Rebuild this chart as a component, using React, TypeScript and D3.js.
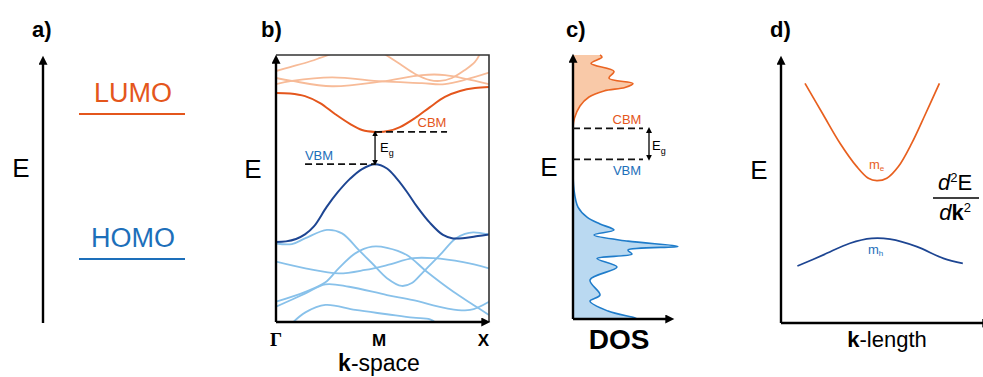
import React, { useRef, useEffect } from 'react';
import * as d3 from 'd3';

const SANS = '"Liberation Sans", Arial, Helvetica, sans-serif';
const SERIF = '"Liberation Serif", "Times New Roman", serif';

const ORANGE = '#e4561c';
const ORANGE_LIGHT = '#f7bb98';
const BLUE = '#1d6fba';
const BLUE_DARK = '#1d4592';
const BLUE_LIGHT = '#88c1ea';

// panel a: molecular levels
const levelNames = ['LUMO', 'HOMO'];
const levelEnergies = [78.5, 23.8];

// panel b: band structure, [k, E] with Γ=0, X=100
const kPointNames = ['Γ', 'M', 'X'];
const kPointPos = [0, 46.5, 100];
const gapB = [71.2, 59.1]; // CBM, VBM

const cbBand = [[0, 85.8], [6.6, 85.6], [13.6, 84.6], [20.7, 82.0], [27.7, 77.9], [34.7, 74.2], [40.4, 71.9], [46.5, 71.2], [52.6, 71.5], [58.2, 73.0], [65.3, 76.4], [72.3, 80.5], [79.3, 84.3], [86.4, 86.5], [93.4, 87.6], [100, 88.0]];
const vbBand = [[0, 30.0], [4.7, 30.2], [9.4, 31.1], [13.6, 32.8], [17.8, 35.8], [23.8, 43.1], [29.1, 48.7], [34.7, 53.6], [40.4, 57.3], [46.5, 59.1], [52.1, 57.5], [56.8, 53.6], [61.5, 48.7], [66.2, 43.2], [72.3, 37.1], [78.4, 32.6], [83.1, 31.3], [88.7, 31.5], [94.8, 32.2], [100, 32.8]];

const upper1 = [[0, 94.0], [6.6, 95.5], [13.6, 97.0], [20.7, 98.9], [26.3, 100.5]];
const upper2 = [[50.7, 100.5], [58.2, 96.6], [65.3, 92.9], [72.3, 90.6], [77.0, 90.3], [82.6, 91.4], [88.7, 94.4], [93.4, 97.4], [95.8, 100.5]];
const upper3 = [[0, 91.4], [7.5, 90.3], [26.3, 88.3], [49.8, 90.1], [68.5, 92.5], [79.3, 92.5], [100, 89.1]];
const upper4 = [[0, 89.1], [7.5, 90.3], [26.3, 91.6], [49.8, 90.1], [68.5, 89.5], [79.3, 89.1], [100, 93.4]];

const lower1 = [[0, 29.4], [7.5, 29.2], [13.6, 31.3], [23.9, 34.5], [31.0, 33.2], [38.8, 27.0], [45.1, 22.0], [52.1, 16.4], [59.0, 13.5], [63.8, 14.6], [69.2, 18.8], [77.0, 25.1], [84.0, 31.1], [88.7, 33.0], [92.6, 33.6], [100, 32.8]];
const lower2 = [[0, 22.6], [13.8, 20.1], [29.4, 18.2], [41.9, 19.5], [52.1, 21.3], [64.4, 23.9], [73.9, 23.9], [87.9, 22.4], [100, 20.1]];
const lower3 = [[0, 7.6], [13.8, 11.3], [23.2, 14.9], [29.4, 20.1], [37.2, 25.7], [45.1, 28.2], [52.1, 27.8], [61.4, 25.1], [70.8, 18.8], [83.3, 11.3], [92.7, 6.4], [100, 2.6]];
const lower4 = [[0, 5.7], [13.8, 10.7], [23.2, 14.1], [34.3, 13.2], [52.1, 10.1], [64.4, 8.2], [80.1, 5.1], [91.1, 4.5], [100, 7.6]];
const lower5 = [[7.5, -0.5], [13.8, 3.6], [23.2, 6.4], [37.2, 4.5], [52.1, 2.9], [64.4, 1.6], [72.3, 1.0], [75.4, -0.5]];

const upperBands = [upper1, upper2, upper3, upper4];
const lowerBands = [lower1, lower2, lower3, lower4, lower5];

// panel c: density of states, [E, DOS]
const gapC = [72.2, 60.5];
const dosConduction = [[100, 27], [99.2, 29], [96.8, 18], [93.8, 41], [91.2, 36], [89.2, 60], [87.7, 52], [86.4, 31], [84.1, 16], [80.7, 7], [76.1, 1.5], [72.7, 0]];
const dosValence = [[60.2, 0], [48.9, 1], [42.4, 5], [38.6, 14], [36.0, 27], [33.7, 41], [31.8, 21], [29.5, 55], [27.5, 105], [26.1, 55], [24.6, 59], [22.9, 24], [19.7, 44], [14.8, 17], [9.1, 27], [6.8, 17], [3.0, 35], [0.4, 62], [0, 64]];

// panel d: effective mass parabolas, [k, E]
const electronCurve = [[12.0, 90.1], [21.2, 78.2], [29.5, 67.6], [37.9, 58.8], [43.7, 54.4], [47.9, 53.5], [52.9, 54.4], [58.7, 58.8], [65.4, 67.6], [72.0, 78.2], [79.2, 90.1]];
const holeCurve = [[8.2, 21.4], [21.2, 25.6], [34.5, 30.0], [45.4, 31.8], [54.5, 31.5], [67.9, 28.7], [81.2, 24.3], [90.9, 22.4]];

const panelLabels = ['a)', 'b)', 'c)', 'd)'];
const panelLabelX = [32, 261, 566, 770];

export default function App() {
  const svgRef = useRef<SVGSVGElement>(null);

  useEffect(() => {
    const svg = d3.select(svgRef.current);
    svg.selectAll('*').remove();
    svg.attr('font-family', SANS);

    const defs = svg.append('defs');
    const marker = (id: string, w: number, h: number, refX: number) =>
      defs.append('marker')
        .attr('id', id)
        .attr('viewBox', '0 0 10 10')
        .attr('refX', refX)
        .attr('refY', 5)
        .attr('markerUnits', 'userSpaceOnUse')
        .attr('markerWidth', w)
        .attr('markerHeight', h)
        .attr('orient', 'auto-start-reverse')
        .append('path')
        .attr('d', 'M0,0 L10,5 L0,10 z')
        .attr('fill', '#000');
    marker('arr', 11, 9, 3);
    marker('arrS', 6, 6, 6);

    const axisLine = (x1: number, y1: number, x2: number, y2: number) =>
      svg.append('line')
        .attr('x1', x1).attr('y1', y1).attr('x2', x2).attr('y2', y2)
        .attr('stroke', '#000').attr('stroke-width', 2.4)
        .attr('marker-end', 'url(#arr)');

    const bigE = (x: number, y: number) =>
      svg.append('text').attr('x', x).attr('y', y).attr('font-size', 26).attr('text-anchor', 'middle').text('E');

    // panel labels
    svg.append('g').selectAll('text').data(panelLabels).join('text')
      .attr('x', (d, i) => panelLabelX[i]).attr('y', 37)
      .attr('font-size', 22).attr('font-weight', 'bold').text(d => d);

    // ---------- a)
    const yA = d3.scaleLinear().domain([0, 100]).range([322, 57]);
    axisLine(43, 323, 43, 62);
    bigE(21, 177);
    const levelColors = [ORANGE, BLUE];
    const ga = svg.append('g');
    ga.selectAll('line').data(levelEnergies).join('line')
      .attr('x1', 79).attr('x2', 185)
      .attr('y1', d => yA(d)).attr('y2', d => yA(d))
      .attr('stroke', (d, i) => levelColors[i]).attr('stroke-width', 2);
    ga.selectAll('text').data(levelNames).join('text')
      .attr('x', 133).attr('y', (d, i) => yA(levelEnergies[i]) - 12)
      .attr('text-anchor', 'middle').attr('font-size', 27)
      .attr('fill', (d, i) => levelColors[i]).text(d => d);

    // ---------- b)
    const xB = d3.scaleLinear().domain([0, 100]).range([276, 489]);
    const yB = d3.scaleLinear().domain([0, 100]).range([322, 55]);
    const lineB = d3.line<number[]>().x(d => xB(d[0])).y(d => yB(d[1])).curve(d3.curveCatmullRom.alpha(0.5));
    defs.append('clipPath').attr('id', 'clipB').append('rect')
      .attr('x', xB(0)).attr('y', yB(100)).attr('width', xB(100) - xB(0)).attr('height', yB(0) - yB(100));
    const gb = svg.append('g').attr('clip-path', 'url(#clipB)');
    gb.selectAll('path.up').data(upperBands).join('path').attr('class', 'up')
      .attr('d', lineB).attr('fill', 'none').attr('stroke', ORANGE_LIGHT).attr('stroke-width', 1.8);
    gb.selectAll('path.lo').data(lowerBands).join('path').attr('class', 'lo')
      .attr('d', lineB).attr('fill', 'none').attr('stroke', BLUE_LIGHT).attr('stroke-width', 1.8);
    gb.append('path').attr('d', lineB(cbBand)).attr('fill', 'none').attr('stroke', ORANGE).attr('stroke-width', 2);
    gb.append('path').attr('d', lineB(vbBand)).attr('fill', 'none').attr('stroke', BLUE_DARK).attr('stroke-width', 2);

    // frame
    svg.append('path')
      .attr('d', `M${xB(0)},${yB(100)} H${xB(100)} V${yB(0)}`)
      .attr('fill', 'none').attr('stroke', '#333').attr('stroke-width', 1.6);
    axisLine(xB(0), yB(0), xB(0), yB(100) + 6);
    axisLine(xB(0), yB(0), xB(100) - 5, yB(0));

    const kM = kPointPos[1];
    svg.append('line').attr('x1', xB(kM)).attr('x2', xB(kM) + 72)
      .attr('y1', yB(gapB[0])).attr('y2', yB(gapB[0]))
      .attr('stroke', '#111').attr('stroke-width', 1.8).attr('stroke-dasharray', '7,4');
    svg.append('line').attr('x1', xB(kM) - 70).attr('x2', xB(kM))
      .attr('y1', yB(gapB[1])).attr('y2', yB(gapB[1]))
      .attr('stroke', '#111').attr('stroke-width', 1.8).attr('stroke-dasharray', '7,4');
    svg.append('line').attr('x1', xB(kM)).attr('x2', xB(kM))
      .attr('y1', yB(gapB[1]) - 1).attr('y2', yB(gapB[0]) + 1)
      .attr('stroke', '#000').attr('stroke-width', 1.3)
      .attr('marker-start', 'url(#arrS)').attr('marker-end', 'url(#arrS)');
    const egB = svg.append('text').attr('x', xB(kM) + 5).attr('y', 152).attr('font-size', 13);
    egB.append('tspan').text('E');
    egB.append('tspan').attr('font-size', 9).attr('dy', 4).text('g');
    svg.append('text').attr('x', 432).attr('y', 127).attr('font-size', 13).attr('text-anchor', 'middle')
      .attr('fill', ORANGE).text('CBM');
    svg.append('text').attr('x', 319).attr('y', 160).attr('font-size', 13).attr('text-anchor', 'middle')
      .attr('fill', BLUE).text('VBM');
    bigE(253, 178);

    svg.append('g').selectAll('text').data(kPointNames).join('text')
      .attr('x', (d, i) => xB(kPointPos[i]) + (i === 1 ? 4 : 0))
      .attr('y', 346)
      .attr('text-anchor', (d, i) => (i === 2 ? 'end' : 'middle'))
      .attr('font-family', (d, i) => (i === 0 ? SERIF : SANS))
      .attr('font-weight', 'bold')
      .attr('font-size', (d, i) => (i === 0 ? 19 : 17))
      .text(d => d);
    const ks = svg.append('text').attr('x', 379).attr('y', 371).attr('text-anchor', 'middle').attr('font-size', 23);
    ks.append('tspan').attr('font-weight', 'bold').text('k');
    ks.append('tspan').text('-space');

    // ---------- c)
    const yC = d3.scaleLinear().domain([0, 100]).range([319, 55]);
    const xC = d3.scaleLinear().domain([0, 100]).range([573, 673]);
    const areaC = d3.area<number[]>().y(d => yC(d[0])).x0(xC(0)).x1(d => xC(d[1])).curve(d3.curveCatmullRom.alpha(0.5));
    const lineC = d3.line<number[]>().y(d => yC(d[0])).x(d => xC(d[1])).curve(d3.curveCatmullRom.alpha(0.5));
    svg.append('path').attr('d', areaC(dosConduction)).attr('fill', '#f9c9a8');
    svg.append('path').attr('d', lineC(dosConduction)).attr('fill', 'none').attr('stroke', '#ea6523').attr('stroke-width', 1.6);
    svg.append('path').attr('d', areaC(dosValence)).attr('fill', '#bad9f1');
    svg.append('path').attr('d', lineC(dosValence)).attr('fill', 'none').attr('stroke', '#1f7cca').attr('stroke-width', 1.6);
    axisLine(xC(0), yC(0), xC(0), yC(100) + 5);
    axisLine(xC(0), yC(0), xC(100) - 5, yC(0));
    gapC.forEach(e => {
      svg.append('line').attr('x1', xC(0)).attr('x2', xC(70))
        .attr('y1', yC(e)).attr('y2', yC(e))
        .attr('stroke', '#111').attr('stroke-width', 1.8).attr('stroke-dasharray', '7,4');
    });
    svg.append('line').attr('x1', xC(76)).attr('x2', xC(76))
      .attr('y1', yC(gapC[1]) - 1).attr('y2', yC(gapC[0]) + 1)
      .attr('stroke', '#000').attr('stroke-width', 1.3)
      .attr('marker-start', 'url(#arrS)').attr('marker-end', 'url(#arrS)');
    const egC = svg.append('text').attr('x', xC(79)).attr('y', 150).attr('font-size', 13);
    egC.append('tspan').text('E');
    egC.append('tspan').attr('font-size', 9).attr('dy', 4).text('g');
    svg.append('text').attr('x', 627).attr('y', 124).attr('font-size', 13).attr('text-anchor', 'middle')
      .attr('fill', ORANGE).text('CBM');
    svg.append('text').attr('x', 627).attr('y', 175).attr('font-size', 13).attr('text-anchor', 'middle')
      .attr('fill', BLUE).text('VBM');
    bigE(549, 176);
    svg.append('text').attr('x', 619).attr('y', 349).attr('text-anchor', 'middle')
      .attr('font-size', 28).attr('font-weight', 'bold').text('DOS');

    // ---------- d)
    const xD = d3.scaleLinear().domain([0, 100]).range([781, 981]);
    const yD = d3.scaleLinear().domain([0, 100]).range([323, 57]);
    const lineD = d3.line<number[]>().x(d => xD(d[0])).y(d => yD(d[1])).curve(d3.curveCatmullRom.alpha(0.5));
    svg.append('path').attr('d', lineD(electronCurve)).attr('fill', 'none').attr('stroke', '#e8601f').attr('stroke-width', 1.7);
    svg.append('path').attr('d', lineD(holeCurve)).attr('fill', 'none').attr('stroke', BLUE_DARK).attr('stroke-width', 1.7);
    axisLine(xD(0), yD(0), xD(0), yD(100) + 5);
    axisLine(xD(0), yD(0), 985, yD(0));
    const me = svg.append('text').attr('x', 869).attr('y', 169).attr('font-size', 13).attr('fill', '#e8601f');
    me.append('tspan').text('m');
    me.append('tspan').attr('font-size', 8).attr('dy', 2).text('e');
    const mh = svg.append('text').attr('x', 868).attr('y', 254).attr('font-size', 13).attr('fill', BLUE);
    mh.append('tspan').text('m');
    mh.append('tspan').attr('font-size', 8).attr('dy', 2).text('h');
    bigE(759, 179);
    const kl = svg.append('text').attr('x', 887).attr('y', 347).attr('text-anchor', 'middle').attr('font-size', 22);
    kl.append('tspan').attr('font-weight', 'bold').text('k');
    kl.append('tspan').text('-length');

    const num = svg.append('text').attr('x', 955).attr('y', 190).attr('text-anchor', 'middle').attr('font-size', 22);
    num.append('tspan').attr('font-style', 'italic').text('d');
    num.append('tspan').attr('font-size', 13).attr('dy', -8).text('2');
    num.append('tspan').attr('dy', 8).text('E');
    svg.append('line').attr('x1', 933).attr('x2', 979).attr('y1', 198).attr('y2', 198)
      .attr('stroke', '#000').attr('stroke-width', 1.3);
    const den = svg.append('text').attr('x', 955).attr('y', 220).attr('text-anchor', 'middle').attr('font-size', 22);
    den.append('tspan').attr('font-style', 'italic').text('d');
    den.append('tspan').attr('font-weight', 'bold').text('k');
    den.append('tspan').attr('font-size', 13).attr('dy', -8).text('2');
  }, []);

  return (
    <svg
      ref={svgRef}
      width={983}
      height={377}
      style={{ position: 'absolute', left: 0, top: 0, background: '#fff' }}
    />
  );
}
